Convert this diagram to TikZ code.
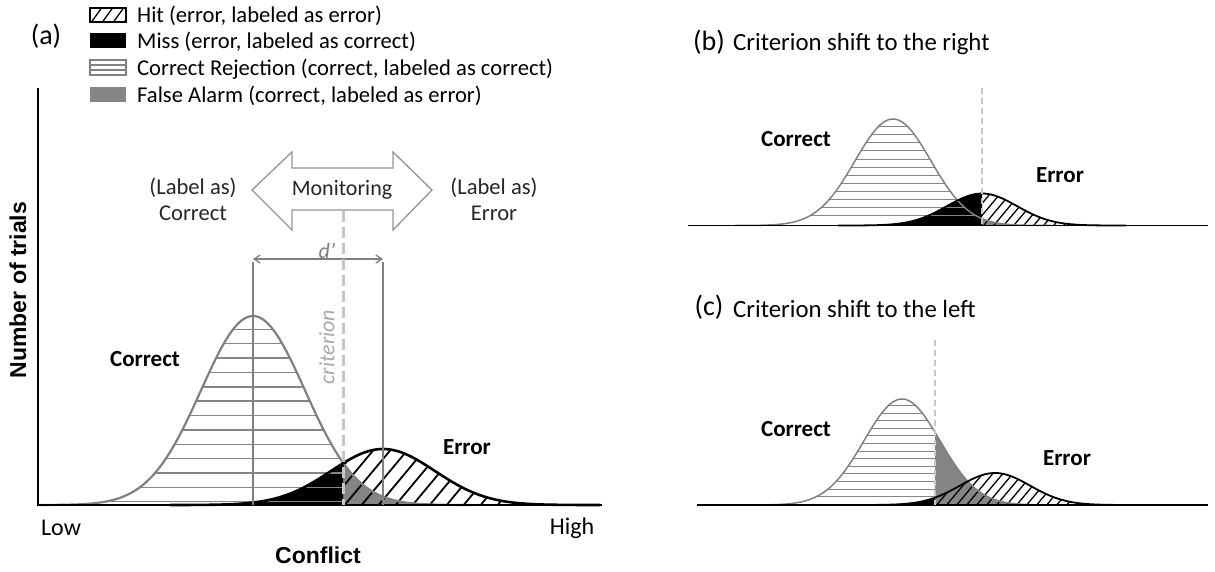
\documentclass[tikz,border=0pt]{standalone}
\usepackage{fontspec}
\setmainfont{Carlito}
\newfontfamily\arialfont{Liberation Sans}
\usetikzlibrary{arrows.meta}
\pgfmathdeclarefunction{gs}{4}{\pgfmathparse{#2*exp(-((#1-#3)/#4)^2/2)}}
\definecolor{cgray}{gray}{0.50}
\definecolor{hgray}{gray}{0.52}
\definecolor{fagray}{gray}{0.52}
\definecolor{critgray}{gray}{0.78}
\definecolor{arrgray}{gray}{0.58}
\newcommand{\drawdists}{%
  % false alarm
  \fill[fagray] (\Pcr,\Pbase) -- plot[domain=\Pcr:\Pcmax, samples=80] (\x,{\Pbase-gs(\x,\Pch,\Pcm,\Pcs)}) -- (\Pcmax,\Pbase) -- cycle;
  % miss
  \fill[black] (\Pemin,\Pbase) -- plot[domain=\Pemin:\Pcr, samples=80] (\x,{\Pbase-gs(\x,\Peh,\Pem,\Pes)}) -- (\Pcr,\Pbase) -- cycle;
  % correct rejection lines
  \begin{scope}
    \clip (\Pcmin,\Pbase) -- plot[domain=\Pcmin:\Pcr, samples=100] (\x,{\Pbase-gs(\x,\Pch,\Pcm,\Pcs)}) -- (\Pcr,\Pbase) -- cycle;
    \foreach \k in {0,...,\Pnh} \draw[hgray, line width=\Phw] (\Pcmin,\Phy-\k*\Phs) -- (\Pcr,\Phy-\k*\Phs);
  \end{scope}
  % hit diagonals
  \begin{scope}
    \clip (\Pcr,\Pbase) -- plot[domain=\Pcr:\Pemax, samples=100] (\x,{\Pbase-gs(\x,\Peh,\Pem,\Pes)}) -- (\Pemax,\Pbase) -- cycle;
    \foreach \k in {-8,...,\Pnd} \draw[black, line width=\Pdw] (\Pcr+\k*\Pds,\Pbase+2) -- ++(80,-96);
  \end{scope}
  \draw[cgray, line width=\Pcw] plot[domain=\Pcmin:\Pcmax, samples=160] (\x,{\Pbase-gs(\x,\Pch,\Pcm,\Pcs)});
  \draw[black, line width=\Pew] plot[domain=\Pemin:\Pemax, samples=160] (\x,{\Pbase-gs(\x,\Peh,\Pem,\Pes)});
}
\tikzset{
  lbl/.style={inner sep=0pt, font=\fontsize{22}{26}\selectfont},
  leg/.style={inner sep=0pt, anchor=base west, font=\fontsize{22.6}{26}\selectfont},
  bold/.style={inner sep=0pt, font=\fontsize{23}{27}\selectfont\bfseries},
  axlbl/.style={inner sep=0pt, font=\arialfont\fontsize{23}{27}\selectfont\bfseries},
  ttl/.style={inner sep=0pt, anchor=west, font=\fontsize{24.8}{28}\selectfont},
  pnl/.style={inner sep=0pt, font=\fontsize{28}{32}\selectfont},
  dline/.style={cgray, line width=1.5pt},
}
\begin{document}
\begin{tikzpicture}[x=1pt,y=-1pt]
\useasboundingbox (0,0) rectangle (1215,571);

% ---------------- panel (a) ----------------
\node[pnl] (la) at (46,36) {(a)};
% legend
\begin{scope}
  \clip (90,8) rectangle (126,22);
  \foreach \k in {-2,...,4} \draw[black, line width=1.3pt] (90+\k*11,24) -- ++(13,-18);
\end{scope}
\draw[black, line width=1.2pt] (90,8) rectangle (126,22);
\fill[black] (90,33) rectangle (126,48);
\draw[cgray, line width=1.2pt] (90,60) rectangle (126,75);
\draw[cgray, line width=1.2pt] (90,65) -- (126,65) (90,70) -- (126,70);
\fill[fagray] (90,87) rectangle (126,102);
\node[leg] (l1) at (137,22.5) {Hit (error, labeled as error)};
\node[leg] (l2) at (137,48) {Miss (error, labeled as correct)};
\node[leg] (l3) at (137,75) {Correct Rejection (correct, labeled as correct)};
\node[leg] (l4) at (137,102) {False Alarm (correct, labeled as error)};

% distributions
\def\Pbase{505}\def\Pcm{253}\def\Pch{189}\def\Pcs{52}
\def\Pem{383}\def\Peh{56}\def\Pes{52}\def\Pcr{343}
\def\Pcmin{40}\def\Pcmax{470}\def\Pemin{170}\def\Pemax{600}
\def\Phy{501.7}\def\Phs{14.36}\def\Pnh{12}\def\Phw{1.4pt}
\def\Pds{17}\def\Pnd{16}\def\Pdw{1.8pt}\def\Pcw{2.2pt}\def\Pew{2.6pt}
\drawdists

% axes
\coordinate (ytop) at (38,88);
\coordinate (orig) at (38,505);
\coordinate (xend) at (602,505);
\draw[black, line width=2pt] (ytop) -- (orig) -- (xend);

% d' lines
\coordinate (d1t) at (253,262); \coordinate (d1b) at (253,505);
\coordinate (d2t) at (383,262); \coordinate (d2b) at (383,505);
\draw[dline] (d1t) -- (d1b);
\draw[dline] (d2t) -- (d2b);
\coordinate (da) at (253,259); \coordinate (db) at (383,259);
\draw[cgray, line width=1.3pt, {Straight Barb[length=6pt,width=8pt]}-{Straight Barb[length=6pt,width=8pt]}] (da) -- (db);
\node[lbl, text=cgray, font=\fontsize{22}{26}\selectfont\itshape] (dp) at (327,251) {d'};

% criterion
\coordinate (ct) at (343,211);
\coordinate (cb) at (343,505);
\draw[critgray, line width=3pt, dash pattern=on 11pt off 5pt] (ct) -- (cb);
\node[lbl, text=critgray!85!black, rotate=90, font=\fontsize{22}{26}\selectfont\itshape] (crl) at (327,347) {criterion};

% monitoring arrow
\draw[arrgray, line width=1.3pt, fill=white] (252,190) -- (292,152) -- (292,168) -- (393,168) -- (393,152) -- (432,190) -- (393,230) -- (393,210) -- (292,210) -- (292,230) -- cycle;
\node[lbl, text=black!85] (mon) at (342,190) {Monitoring};
\node[lbl, text=black!85, align=center, font=\fontsize{22.6}{26}\selectfont] (lc) at (193,199) {(Label as)\\Correct};
\node[lbl, text=black!85, align=center, font=\fontsize{22.6}{26}\selectfont] (le) at (494,199) {(Label as)\\Error};

\node[bold] (ca) at (145,359) {Correct};
\node[bold] (ea) at (467,447) {Error};
\node[axlbl, rotate=90] (yl) at (18,290) {Number of trials};
\node[lbl, font=\fontsize{24}{28}\selectfont] (low) at (61,528) {Low};
\node[lbl, font=\fontsize{24}{28}\selectfont] (high) at (572,528) {High};
\node[axlbl] (xl) at (318,555) {Conflict};

% ---------------- panel (b) ----------------
\node[pnl] (lb) at (709,42) {(b)};
\node[ttl] (tb) at (733,44) {Criterion shift to the right};
\def\Pbase{225.5}\def\Pcm{893}\def\Pch{106.5}\def\Pcs{38}
\def\Pem{982}\def\Peh{32}\def\Pes{35}\def\Pcr{982}
\def\Pcmin{735}\def\Pcmax{1051}\def\Pemin{838}\def\Pemax{1126}
\def\Phy{215.7}\def\Phs{8.1}\def\Pnh{12}\def\Phw{1pt}
\def\Pds{10}\def\Pnd{16}\def\Pdw{1.3pt}\def\Pcw{1.5pt}\def\Pew{1.8pt}
\drawdists
\coordinate (bl) at (688,225.5); \coordinate (br) at (1208,225.5);
\draw[black, line width=1.5pt] (bl) -- (br);
\coordinate (bct) at (982,88); \coordinate (bcb) at (982,225.5);
\draw[critgray, line width=1.5pt, dash pattern=on 6pt off 4pt] (bct) -- (bcb);
\node[bold] (cb1) at (796,139) {Correct};
\node[bold] (eb1) at (1060,175) {Error};

% ---------------- panel (c) ----------------
\node[pnl] (lc2) at (709,307) {(c)};
\node[ttl] (tc) at (733,309) {Criterion shift to the left};
\def\Pbase{505}\def\Pcm{902}\def\Pch{106}\def\Pcs{38}
\def\Pem{995}\def\Peh{32}\def\Pes{35}\def\Pcr{935}
\def\Pcmin{744}\def\Pcmax{1060}\def\Pemin{851}\def\Pemax{1139}
\def\Phy{496.7}\def\Phs{7.6}\def\Pnh{13}\def\Phw{1pt}
\def\Pds{10}\def\Pnd{20}\def\Pdw{1.3pt}\def\Pcw{1.5pt}\def\Pew{1.8pt}
\drawdists
\coordinate (cl) at (697,505); \coordinate (cr) at (1208,505);
\draw[black, line width=1.5pt] (cl) -- (cr);
\coordinate (cct) at (935,340); \coordinate (ccb) at (935,505);
\draw[critgray, line width=1.5pt, dash pattern=on 6pt off 4pt] (cct) -- (ccb);
\node[bold] (cc1) at (796,429) {Correct};
\node[bold] (ec1) at (1067,458) {Error};
\end{tikzpicture}
\end{document}
